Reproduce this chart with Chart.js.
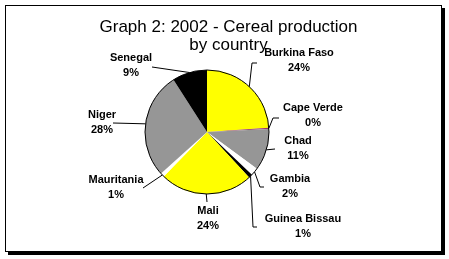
<!DOCTYPE html>
<html lang="en">
<head>
<meta charset="UTF-8">
<title>Cereal production by country</title>
<script src="https://cdn.jsdelivr.net/npm/chart.js@4.4.0/dist/chart.umd.min.js"></script>
<style>
  html, body { margin: 0; padding: 0; background: #fff; }
</style>
</head>
<body>
<canvas id="pie" width="449" height="259"></canvas>
<script>
// data (percent of 2002 cereal production)
const countries = ['Burkina Faso', 'Cape Verde', 'Chad', 'Gambia', 'Guinea Bissau', 'Mali', 'Mauritania', 'Niger', 'Senegal'];
const shares = [23.9, 0.3, 10.9, 2.0, 1.0, 24.2, 1.0, 27.6, 9.1];
const sliceColors = ['#ffff00', '#993366', '#969696', '#ffffff', '#000000', '#ffff00', '#ffffff', '#969696', '#000000'];
const titleLines = ['Graph 2: 2002 - Cereal production', 'by country'];

// label placement, offsets from the pie centre: text centre, leader elbow, leader end
const labelLayout = [
  { text: [92, -79],  elbow: [45, -69], end: [50, -69] },
  { text: [106, -24], elbow: [66, -14], end: [72, -14] },
  { text: [91, 9],    elbow: [68, 17],  end: [68, 17] },
  { text: [83, 47],   elbow: [53, 55],  end: [57, 55] },
  { text: [96, 87],   elbow: [46, 95],  end: [50, 95] },
  { text: [1, 79],    elbow: [0, 70],   end: [0, 70] },
  { text: [-91, 48],  elbow: [-64, 56], end: [-64, 56] },
  { text: [-105, -17], elbow: [-94, -9], end: [-94, -9] },
  { text: [-76, -74], elbow: [-55, -65], end: [-55, -65] }
];

const framePlugin = {
  id: 'frame',
  beforeDraw(chart) {
    const ctx = chart.ctx;
    ctx.save();
    ctx.fillStyle = '#fff';
    ctx.fillRect(0, 0, chart.width, chart.height);
    ctx.strokeStyle = '#000';
    ctx.lineWidth = 1;
    ctx.strokeRect(5.5, 5.5, 436, 246);
    ctx.fillStyle = '#000';
    ctx.fillRect(442, 8, 3, 247);
    ctx.fillRect(8, 252, 437, 3);
    // title
    ctx.font = '17px "Liberation Sans", Arial, sans-serif';
    ctx.textAlign = 'center';
    ctx.textBaseline = 'middle';
    ctx.fillText(titleLines[0], chart.width / 2 + 4, 27);
    ctx.fillText(titleLines[1], chart.width / 2 + 4, 45);
    ctx.restore();
  }
};

const labelPlugin = {
  id: 'pieLabels',
  afterDatasetsDraw(chart) {
    const ctx = chart.ctx;
    const arcs = chart.getDatasetMeta(0).data;
    const total = shares.reduce((a, b) => a + b, 0);
    ctx.save();
    // outer outline of the pie
    const a0 = arcs[0];
    ctx.strokeStyle = '#000';
    ctx.lineWidth = 1;
    ctx.beginPath();
    ctx.arc(a0.x, a0.y, a0.outerRadius, 0, Math.PI * 2);
    ctx.stroke();

    ctx.font = 'bold 11px "Liberation Sans", Arial, sans-serif';
    ctx.textAlign = 'center';
    ctx.textBaseline = 'middle';
    ctx.fillStyle = '#000';
    arcs.forEach((arc, i) => {
      const lay = labelLayout[i];
      const mid = (arc.startAngle + arc.endAngle) / 2;
      const ax = arc.x + Math.cos(mid) * arc.outerRadius;
      const ay = arc.y + Math.sin(mid) * arc.outerRadius;
      ctx.beginPath();
      ctx.moveTo(ax, ay);
      ctx.lineTo(arc.x + lay.elbow[0], arc.y + lay.elbow[1]);
      ctx.lineTo(arc.x + lay.end[0], arc.y + lay.end[1]);
      ctx.stroke();
      const tx = arc.x + lay.text[0];
      const ty = arc.y + lay.text[1];
      ctx.fillText(countries[i], tx, ty);
      ctx.fillText(Math.round(shares[i] / total * 100) + '%', tx, ty + 15);
    });
    ctx.restore();
  }
};

new Chart(document.getElementById('pie').getContext('2d'), {
  type: 'pie',
  data: {
    labels: countries,
    datasets: [{
      data: shares,
      backgroundColor: sliceColors,
      borderWidth: 0
    }]
  },
  options: {
    responsive: false,
    animation: false,
    events: [],
    layout: { padding: { left: 145, right: 180, top: 70, bottom: 65 } },
    plugins: {
      legend: { display: false },
      tooltip: { enabled: false },
      title: { display: false }
    }
  },
  plugins: [framePlugin, labelPlugin]
});
</script>
</body>
</html>
